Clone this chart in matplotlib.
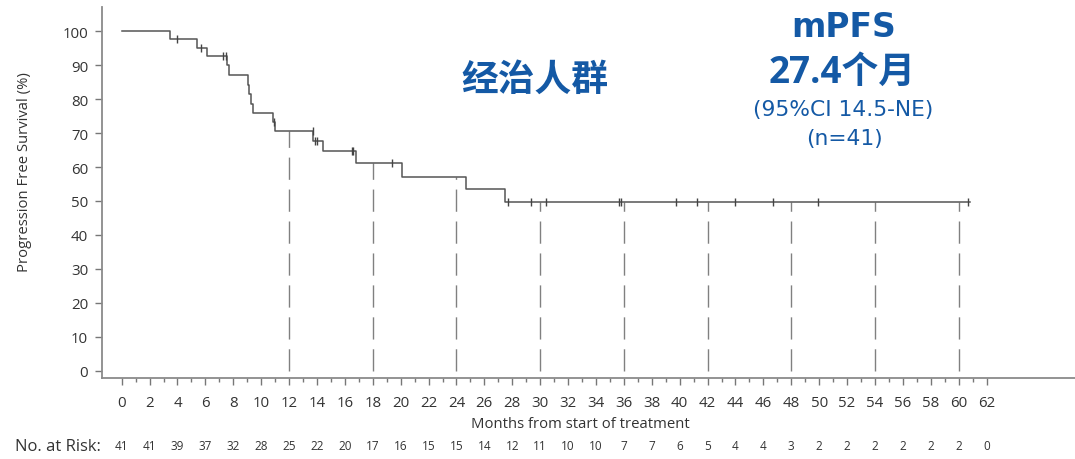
import numpy as np
import matplotlib
matplotlib.use("Agg")
import matplotlib.pyplot as plt
import matplotlib.transforms as mtransforms

# KM step curve (months, % progression free)
step_times = [0, 3.46, 5.42, 6.14, 7.57, 7.72, 9.08, 9.15, 9.25, 9.39,
              10.87, 10.99, 13.74, 14.45, 16.8, 20.11, 24.68, 27.5]
step_surv = [100, 97.6, 95.1, 92.6, 89.9, 87.0, 84.0, 81.4, 78.6, 75.9,
             73.3, 70.7, 67.7, 64.6, 61.1, 57.2, 53.4, 49.6]
last_followup = 60.8

censor_times = [3.94, 5.66, 7.29, 7.48, 10.9, 13.69, 13.86, 14.02, 16.49, 16.6,
                19.35, 27.67, 29.32, 30.42, 35.67, 35.82, 39.73, 41.22, 43.96,
                46.71, 49.89, 60.65]

landmarks = [12, 18, 24, 30, 36, 42, 48, 54, 60]

risk_times = list(range(0, 63, 2))
risk_counts = [41, 41, 39, 37, 32, 28, 25, 22, 20, 17, 16, 15, 15, 14, 12, 11,
               10, 10, 7, 7, 6, 5, 4, 4, 3, 2, 2, 2, 2, 2, 2, 0]

BLUE = "#1459a5"
GREY_TXT = "#333333"
plt.rcParams["font.family"] = ["Open Sans", "Noto Sans CJK SC", "DejaVu Sans"]
LATIN_WIDE = ["DejaVu Sans", "Noto Sans CJK SC"]


def surv_at(t):
    # value of the step function just after time t
    idx = np.searchsorted(step_times, t, side="right") - 1
    return step_surv[idx]


def fy(py):
    # pixel row from the top -> figure fraction
    return 1 - py / 460


fig = plt.figure(figsize=(10.75, 4.6), dpi=100)
ax = fig.add_axes([102 / 1075, 81 / 460, 973 / 1075, 371 / 460])

# curve
xs = step_times + [last_followup]
ys = step_surv + [step_surv[-1]]
ax.step(xs, ys, where="post", color="#555555", lw=1.1, zorder=3)

# censor ticks
cy = [surv_at(t) for t in censor_times]
ax.plot(censor_times, cy, ls="none", marker="|", ms=6, mew=1.0,
        color="#444444", zorder=4)

# landmark dashed lines up to the curve
tops = [surv_at(t) for t in landmarks]
ax.vlines(landmarks, 0, tops, colors="#808080", lw=1.0,
          linestyles=[(0, (16, 7))], zorder=2)

ax.set_xlim(-1.41, 68.34)
ax.set_ylim(-2.06, 107.06)

for side in ["top", "right"]:
    ax.spines[side].set_visible(False)
for side in ["left", "bottom"]:
    ax.spines[side].set_color("#8a8a8a")
    ax.spines[side].set_linewidth(1.3)

ax.set_xticks(range(0, 63, 2))
ax.set_xticks(range(1, 62, 2), minor=True)
ax.set_yticks(range(0, 101, 10))
ax.tick_params(axis="x", which="major", length=5, width=1, color="#777777",
               labelsize=10.8, labelcolor=GREY_TXT, pad=7)
ax.tick_params(axis="x", which="minor", length=3, width=1, color="#777777")
ax.tick_params(axis="y", length=5, width=1, color="#777777",
               labelsize=10.8, labelcolor=GREY_TXT, pad=5)

ax.set_ylabel("Progression Free Survival (%)", fontsize=10.7, color=GREY_TXT)
ax.yaxis.set_label_coords(-0.072, 0.558)
fig.text(580 / 1075, fy(425), "Months from start of treatment",
         ha="center", va="center", fontsize=10.7, color=GREY_TXT)

# number at risk row
trans = mtransforms.blended_transform_factory(ax.transData, fig.transFigure)
for t, n in zip(risk_times, risk_counts):
    ax.text(t, fy(447), str(n), transform=trans, ha="center",
            va="center", fontsize=8.5, color=GREY_TXT, clip_on=False)
fig.text(101 / 1075, fy(447), "No. at Risk:", ha="right", va="center",
         fontsize=12, color=GREY_TXT)

# blue annotations
fig.text(535 / 1075, fy(80), "经治人群", ha="center", va="center",
         fontsize=26.5, fontweight="bold", color=BLUE,
         family=["Noto Sans CJK SC"])
fig.text(844 / 1075, fy(37.3), "mPFS", ha="center", va="baseline",
         fontsize=23.8, fontweight="bold", color=BLUE, family=LATIN_WIDE)
fig.text(842 / 1075, fy(83.3), "27.4个月", ha="center", va="baseline",
         fontsize=26.5, fontweight="bold", color=BLUE,
         family=["Open Sans", "Noto Sans CJK SC"])
fig.text(843 / 1075, fy(116), "(95%CI 14.5-NE)", ha="center",
         va="baseline", fontsize=15.7, color=BLUE, family=LATIN_WIDE)
fig.text(844 / 1075, fy(145), "(n=41)", ha="center", va="baseline",
         fontsize=15.7, color=BLUE, family=LATIN_WIDE)

fig.savefig("out.png", dpi=100)
